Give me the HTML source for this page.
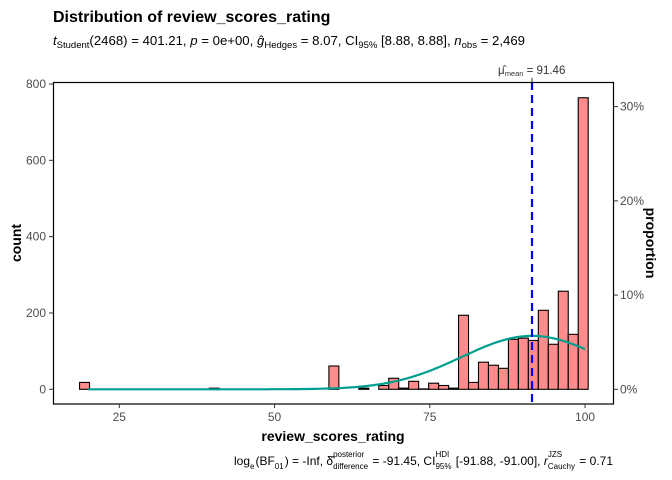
<!DOCTYPE html>
<html><head><meta charset="utf-8"><style>
body{margin:0;background:#fff}
svg{display:block;font-family:"Liberation Sans",Arial,sans-serif}
#caption text{white-space:pre}
</style></head><body>
<svg id="chart" width="672" height="480" viewBox="0 0 672 480">
<rect width="672" height="480" fill="#fff"/>
<text x="53" y="22" font-size="16" font-weight="bold" fill="#000">Distribution of review_scores_rating</text>
<text x="53" y="45" font-size="13.2" fill="#000"><tspan font-style="italic">t</tspan><tspan font-size="9.5" dy="3">Student</tspan><tspan dy="-3">(2468) = 401.21, </tspan><tspan font-style="italic">p</tspan><tspan> = 0e+00, </tspan><tspan font-style="italic">ĝ</tspan><tspan font-size="9.5" dy="3">Hedges</tspan><tspan dy="-3"> = 8.07, CI</tspan><tspan font-size="9.5" dy="3">95%</tspan><tspan dy="-3"> [8.88, 8.88], </tspan><tspan font-style="italic">n</tspan><tspan font-size="9.5" dy="3">obs</tspan><tspan dy="-3"> = 2,469</tspan></text>
<g id="bars"></g>
<path id="density" fill="none" stroke="#009E8E" stroke-width="2.2"/>
<line id="meanline" stroke="#0000FF" stroke-width="2.2" stroke-dasharray="8,5"/>
<rect x="53.5" y="82.5" width="560" height="321.5" fill="none" stroke="#000" stroke-width="1.2"/>
<g id="axes" font-size="12" fill="#4D4D4D"></g>
<text font-size="14" font-weight="bold" transform="translate(21,243) rotate(-90)" text-anchor="middle">count</text>
<text font-size="14" font-weight="bold" text-anchor="middle" transform="translate(646,243) rotate(90)">proportion</text>
<text x="333" y="441" font-size="14" font-weight="bold" text-anchor="middle">review_scores_rating</text>
<g id="caption" font-size="12" fill="#000"></g>
<text x="531.7" y="74" font-size="11.5" text-anchor="middle" fill="#333">μ̂<tspan font-size="7.5" dy="2">mean</tspan><tspan dy="-2"> = 91.46</tspan></text>
</svg>
<script>
const binStart = 18.6;
const binWidth = 1.606;
const counts = [18,0,0,0,0,0,0,0,0,0,0,0,0,3,0,0,0,0,0,0,0,0,0,0,0,61,0,0,3,0,10,29,3,21,1,16,10,3,194,18,71,63,55,131,134,128,207,118,257,144,764];
const xTicks = [25,50,75,100];
const yTicks = [0,200,400,600,800];
const propTicks = [0,0.1,0.2,0.3];
const propLabels = ["0%","10%","20%","30%"];
const nObs = 2469;
const meanVal = 91.46;
const sdVal = 11.3;
const xMin = 20, xMax = 100;

const X = v => 119.3 + (v - 25) * 6.21;
const Y = c => 389.3 - c * 0.3816;
const NS = "http://www.w3.org/2000/svg";
const mk = (t, a, p) => { const e = document.createElementNS(NS, t); for (const k in a) e.setAttribute(k, a[k]); p.appendChild(e); return e; };

const bars = document.getElementById('bars');
counts.forEach((c, i) => {
  const x0 = X(binStart + i * binWidth), x1 = X(binStart + (i + 1) * binWidth);
  const r = mk('rect', {x: x0, y: Y(c), width: x1 - x0, height: Y(0) - Y(c), fill: '#FF8C8C', stroke: '#000', 'stroke-width': 1.1}, bars);
  
  
});

let d = '';
for (let v = xMin; v <= xMax; v += 0.5) {
  const dens = nObs * binWidth / (sdVal * Math.sqrt(2 * Math.PI)) * Math.exp(-((v - meanVal) ** 2) / (2 * sdVal * sdVal));
  d += (d ? 'L' : 'M') + X(v).toFixed(1) + ',' + Y(dens).toFixed(1);
}
document.getElementById('density').setAttribute('d', d);

const ml = document.getElementById('meanline');
ml.setAttribute('x1', X(meanVal)); ml.setAttribute('x2', X(meanVal));
ml.setAttribute('y1', 82); ml.setAttribute('y2', 404);

const axes = document.getElementById('axes');
mk('line', {x1: X(meanVal), x2: X(meanVal), y1: 78, y2: 82, stroke: '#333', 'stroke-width': 1}, axes);
xTicks.forEach(t => {
  mk('line', {x1: X(t), x2: X(t), y1: 404, y2: 408, stroke: '#333'}, axes);
  const e = mk('text', {x: X(t), y: 421, 'text-anchor': 'middle'}, axes);
  e.textContent = t;
  
  
});
yTicks.forEach(t => {
  mk('line', {x1: 49, x2: 53.5, y1: Y(t), y2: Y(t), stroke: '#333'}, axes);
  const e = mk('text', {x: 46, y: Y(t) + 4, 'text-anchor': 'end'}, axes);
  e.textContent = t;
  
  
});
propTicks.forEach((p, i) => {
  const y = Y(p * nObs);
  mk('line', {x1: 613.5, x2: 618, y1: y, y2: y, stroke: '#333'}, axes);
  const e = mk('text', {x: 620, y: y + 4, 'text-anchor': 'start'}, axes);
  e.textContent = propLabels[i];
  
  
});

// caption layout: main text with stacked sub/superscripts
const cap = document.getElementById('caption');
const parts = [
  {t:'log'},{sub:'e'},{t:'(BF'},{sub:'01'},{t:') = -Inf, δ̂'},{sub:'difference', sup:'posterior'},
  {t:' = -91.45, CI'},{sub:'95%', sup:'HDI'},{t:' [-91.88, -91.00], '},{t:'r', it:true},{sub:'Cauchy', sup:'JZS'},{t:' = 0.71'}
];
const baseY = 465;
let cx = 0;
const spaceW = (() => { const e = mk('text', {x: 0, y: -50, 'font-size': 12}, cap); e.textContent = 'a a'; const w3 = e.getComputedTextLength(); e.textContent = 'aa'; const w2 = e.getComputedTextLength(); cap.removeChild(e); return w3 - w2; })();
parts.forEach(p => {
  if (p.t !== undefined) {
    const lead = p.t.match(/^ */)[0].length, trail = p.t.match(/ *$/)[0].length;
    const core = p.t.trim();
    cx += lead * spaceW;
    const e = mk('text', {x: cx, y: baseY, 'font-size': 12}, cap);
    if (p.it) e.setAttribute('font-style', 'italic');
    e.textContent = core;
    cx += e.getComputedTextLength() + trail * spaceW;
  } else {
    const s = mk('text', {x: cx, y: baseY + 4, 'font-size': 8}, cap);
    s.textContent = p.sub;
    let w = s.getComputedTextLength();
    if (p.sup) {
      const u = mk('text', {x: cx, y: baseY - 8, 'font-size': 8}, cap);
      u.textContent = p.sup;
      w = Math.max(w, u.getComputedTextLength());
    }
    cx += w + 1;
  }
});
cap.setAttribute('transform', 'translate(' + (613 - cx) + ',0)');
</script>
</body></html>
